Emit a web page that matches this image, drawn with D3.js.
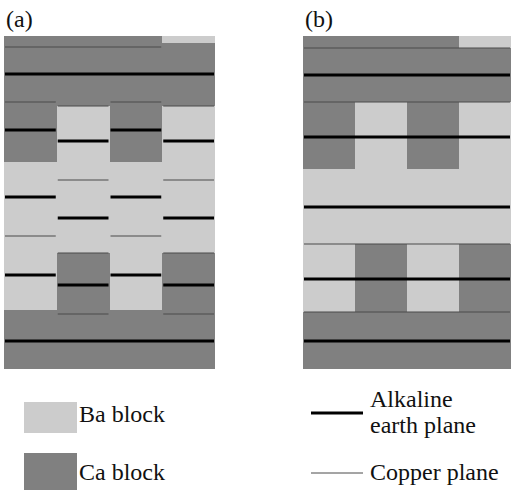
<!DOCTYPE html>
<html>
<head>
<meta charset="utf-8">
<script src="https://cdn.jsdelivr.net/npm/d3@7"></script>
<style>
  body { margin: 0; background: #fff; }
</style>
</head>
<body>
<div id="chart"></div>
<script>
var svgWidth = 511;
var svgHeight = 491;
var serif = "'Liberation Serif', 'DejaVu Serif', 'Times New Roman', serif";

// layer depths, measured downward from the top of each panel (0 .. 333)
var depthExtent = [0, 333];
var columnExtent = [0, 4];

// blocks: [firstColumn, lastColumn, depthTop, depthBottom, kind]
var blocksA = [
  [0, 1, 0, 126, "Ca"], [0, 1, 126, 274, "Ba"], [0, 1, 274, 333, "Ca"],
  [1, 2, 0, 70, "Ca"], [1, 2, 70, 217, "Ba"], [1, 2, 217, 333, "Ca"],
  [2, 3, 0, 126, "Ca"], [2, 3, 126, 274, "Ba"], [2, 3, 274, 333, "Ca"],
  [3, 4, 0, 7, "Ba"], [3, 4, 7, 70, "Ca"], [3, 4, 70, 217, "Ba"], [3, 4, 217, 333, "Ca"]
];
var blocksB = [
  [0, 3, 0, 12, "Ca"], [3, 4, 0, 12, "Ba"],
  [0, 4, 12, 66, "Ca"],
  [0, 1, 66, 133, "Ca"], [1, 2, 66, 133, "Ba"], [2, 3, 66, 133, "Ca"], [3, 4, 66, 133, "Ba"],
  [0, 4, 133, 208, "Ba"],
  [0, 1, 208, 276, "Ba"], [1, 2, 208, 276, "Ca"], [2, 3, 208, 276, "Ba"], [3, 4, 208, 276, "Ca"],
  [0, 4, 276, 333, "Ca"]
];

// planes: [firstColumn, lastColumn, depth, kind]
var planesA = [
  [0, 3, 11, "Cu"], [0, 4, 38, "AE"],
  [0, 1, 66, "Cu"], [2, 3, 66, "Cu"], [1, 2, 70, "Cu"], [3, 4, 70, "Cu"],
  [0, 1, 94, "AE"], [2, 3, 94, "AE"], [1, 2, 105, "AE"], [3, 4, 105, "AE"],
  [1, 2, 144, "Cu"], [3, 4, 144, "Cu"],
  [0, 1, 161, "AE"], [2, 3, 161, "AE"], [1, 2, 182, "AE"], [3, 4, 182, "AE"],
  [0, 1, 200, "Cu"], [2, 3, 200, "Cu"], [1, 2, 217, "Cu"], [3, 4, 217, "Cu"],
  [0, 1, 239, "AE"], [2, 3, 239, "AE"], [1, 2, 249, "AE"], [3, 4, 249, "AE"],
  [1, 2, 278, "Cu"], [3, 4, 278, "Cu"],
  [0, 4, 305, "AE"]
];
var planesB = [
  [0, 4, 12, "Cu"], [0, 4, 39, "AE"], [0, 4, 66, "Cu"], [0, 4, 101, "AE"],
  [0, 4, 171, "AE"], [0, 4, 208, "Cu"], [0, 4, 243, "AE"], [0, 4, 276, "Cu"],
  [0, 4, 305, "AE"]
];

var panelLabels = ["(a)", "(b)"];
var blockLegend = [["Ba", "Ba block"], ["Ca", "Ca block"]];
var planeLegend = [["AE", ["Alkaline", "earth plane"]], ["Cu", ["Copper plane"]]];

var blockColor = { Ba: "#cccccc", Ca: "#808080" };
var planeStyle = {
  AE: { stroke: "#000", width: 3 },
  Cu: { stroke: "#4a4a4a", width: 1 }
};

var svg = d3.select("#chart")
  .append("svg")
  .attr("width", svgWidth)
  .attr("height", svgHeight)
  .attr("font-family", serif);

var yScale = d3.scaleLinear().domain(depthExtent).range([36, 369]);

var panels = [
  { label: panelLabels[0], blocks: blocksA, planes: planesA, x: d3.scaleLinear().domain(columnExtent).range([4, 215]) },
  { label: panelLabels[1], blocks: blocksB, planes: planesB, x: d3.scaleLinear().domain(columnExtent).range([303, 511]) }
];

panels.forEach(function(p) {
  var g = svg.append("g");

  g.selectAll("rect")
    .data(p.blocks)
    .enter()
    .append("rect")
    .attr("x", d => p.x(d[0]))
    .attr("y", d => yScale(d[2]))
    .attr("width", d => p.x(d[1]) - p.x(d[0]))
    .attr("height", d => yScale(d[3]) - yScale(d[2]))
    .attr("fill", d => blockColor[d[4]])
    .attr("shape-rendering", "crispEdges");

  g.selectAll("line")
    .data(p.planes)
    .enter()
    .append("line")
    .attr("x1", d => p.x(d[0]) + 1)
    .attr("x2", d => p.x(d[1]) - 1)
    .attr("y1", d => yScale(d[2]))
    .attr("y2", d => yScale(d[2]))
    .attr("stroke", d => planeStyle[d[3]].stroke)
    .attr("stroke-width", d => planeStyle[d[3]].width);

  g.append("text")
    .attr("x", p.x(0) + 2)
    .attr("y", 27)
    .attr("font-size", 24)
    .attr("fill", "#111")
    .text(p.label);
});

// legend
var legendY = d3.scaleOrdinal().domain(["Ba", "Ca"]).range([402, 453]);
var legendH = d3.scaleOrdinal().domain(["Ba", "Ca"]).range([31, 37]);

svg.selectAll(".swatch")
  .data(blockLegend)
  .enter()
  .append("rect")
  .attr("class", "swatch")
  .attr("x", 24)
  .attr("y", d => legendY(d[0]))
  .attr("width", 53)
  .attr("height", d => legendH(d[0]))
  .attr("fill", d => blockColor[d[0]]);

svg.selectAll(".swatchText")
  .data(blockLegend)
  .enter()
  .append("text")
  .attr("class", "swatchText")
  .attr("x", 79)
  .attr("y", (d, i) => i === 0 ? 422 : 480)
  .attr("font-size", 24)
  .attr("fill", "#111")
  .text(d => d[1]);

var planeY = d3.scaleOrdinal().domain(["AE", "Cu"]).range([413, 473]);

svg.selectAll(".planeKey")
  .data(planeLegend)
  .enter()
  .append("line")
  .attr("class", "planeKey")
  .attr("x1", 311)
  .attr("x2", 363)
  .attr("y1", d => planeY(d[0]))
  .attr("y2", d => planeY(d[0]))
  .attr("stroke", d => planeStyle[d[0]].stroke)
  .attr("stroke-width", d => planeStyle[d[0]].width);

svg.selectAll(".planeText")
  .data(planeLegend)
  .enter()
  .append("text")
  .attr("class", "planeText")
  .attr("y", d => d[1].length > 1 ? planeY(d[0]) - 6 : planeY(d[0]) + 7)
  .attr("font-size", 24)
  .attr("fill", "#111")
  .selectAll("tspan")
  .data(d => d[1])
  .enter()
  .append("tspan")
  .attr("x", 370)
  .attr("dy", (d, i) => i === 0 ? 0 : 26)
  .text(d => d);
</script>
</body>
</html>
